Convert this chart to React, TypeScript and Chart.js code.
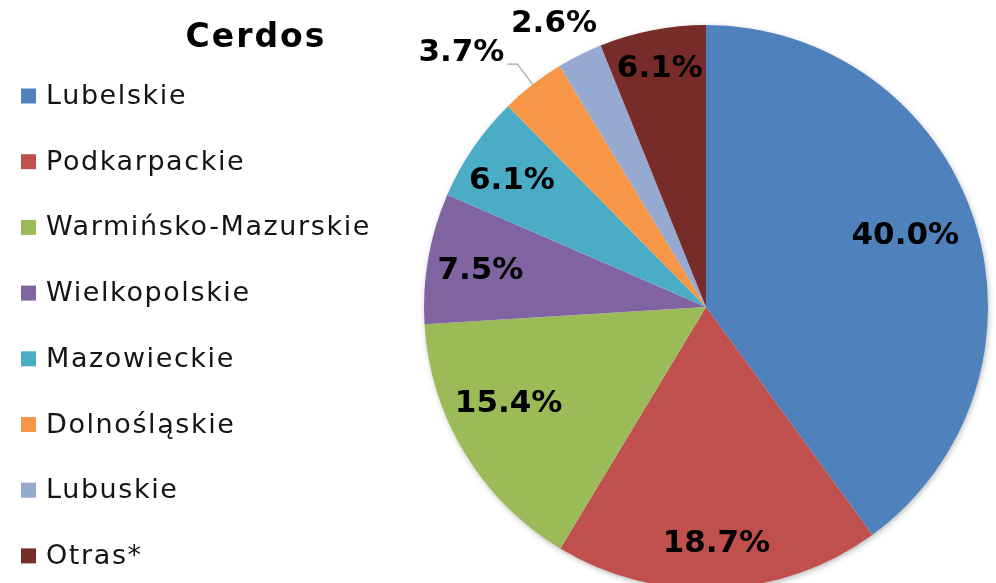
import React, { useEffect, useRef } from "react";
import { Chart, registerables } from "chart.js";

Chart.register(...registerables);

const title = "Cerdos";
const categories = [
  "Lubelskie",
  "Podkarpackie",
  "Warmińsko-Mazurskie",
  "Wielkopolskie",
  "Mazowieckie",
  "Dolnośląskie",
  "Lubuskie",
  "Otras*",
];
const values = [40.0, 18.7, 15.4, 7.5, 6.1, 3.7, 2.6, 6.1];
const colors = [
  "#4F81BD",
  "#C0504D",
  "#9BBB59",
  "#8064A2",
  "#4BACC6",
  "#F79646",
  "#95A9D1",
  "#772C2A",
];

// label placement (fraction of radius) per slice, and whether it sits outside
const labelRadius = [0.75, 0.84, 0.78, 0.81, 0.82, 1.25, 1.14, 0.86];
const labelAngleShift = [-1.5, 0, 5, -1, -1.5, -6, -1.6, 0];
const leaderLine = [false, false, false, false, false, true, false, false];

const FONT = "'DejaVu Sans', sans-serif";

const overlayPlugin = {
  id: "overlay",
  beforeDatasetsDraw(chart: any) {
    const meta = chart.getDatasetMeta(0);
    const arc = meta.data[0];
    if (!arc) return;
    const { x, y, outerRadius } = arc.getProps(["x", "y", "outerRadius"], true);
    const ctx = chart.ctx;
    ctx.save();
    ctx.shadowColor = "rgba(0,0,0,0.35)";
    ctx.shadowBlur = 6;
    ctx.shadowOffsetX = 1;
    ctx.shadowOffsetY = 2;
    ctx.fillStyle = "#ffffff";
    ctx.beginPath();
    ctx.arc(x, y, outerRadius - 1, 0, Math.PI * 2);
    ctx.fill();
    ctx.restore();
  },
  afterDatasetsDraw(chart: any) {
    const ctx = chart.ctx;
    const meta = chart.getDatasetMeta(0);
    const ds = chart.data.datasets[0];
    ctx.save();
    // title
    ctx.fillStyle = "#000";
    ctx.font = `bold 33px ${FONT}`;
    ctx.letterSpacing = "2px";
    ctx.textAlign = "center";
    ctx.textBaseline = "alphabetic";
    ctx.fillText(title, 256, 47);

    // legend
    ctx.font = `27px ${FONT}`;
    ctx.letterSpacing = "1.6px";
    ctx.textAlign = "left";
    ctx.textBaseline = "middle";
    (chart.data.labels as string[]).forEach((lab, i) => {
      const cy = 96 + i * 65.7;
      ctx.fillStyle = ds.backgroundColor[i];
      ctx.fillRect(21, cy - 7.5, 15, 15);
      ctx.fillStyle = "#141414";
      ctx.fillText(lab, 46, cy + 1);
    });

    // data labels
    ctx.font = `bold 31px ${FONT}`;
    ctx.letterSpacing = "0px";
    ctx.textAlign = "center";
    ctx.textBaseline = "middle";
    meta.data.forEach((el: any, i: number) => {
      const p = el.getProps(["x", "y", "startAngle", "endAngle", "outerRadius"], true);
      const mid = (p.startAngle + p.endAngle) / 2 + (labelAngleShift[i] * Math.PI) / 180;
      const r = p.outerRadius * labelRadius[i];
      const lx = p.x + Math.cos(mid) * r;
      const ly = p.y + Math.sin(mid) * r;
      if (leaderLine[i]) {
        const amid = (p.startAngle + p.endAngle) / 2;
        const ex = p.x + Math.cos(amid) * p.outerRadius * 0.995;
        const ey = p.y + Math.sin(amid) * p.outerRadius * 0.995;
        ctx.strokeStyle = "#A6A6A6";
        ctx.lineWidth = 1.2;
        ctx.beginPath();
        ctx.moveTo(lx + 46, ly + 11);
        ctx.lineTo(lx + 56, ly + 11);
        ctx.lineTo(ex, ey);
        ctx.stroke();
      }
      ctx.fillStyle = "#000";
      ctx.fillText(ds.data[i].toFixed(1) + "%", lx, ly);
    });
    ctx.restore();
  },
};

export default function App() {
  const ref = useRef<HTMLCanvasElement>(null);
  useEffect(() => {
    if (!ref.current) return;
    const chart = new Chart(ref.current, {
      type: "pie",
      data: {
        labels: categories,
        datasets: [
          {
            data: values,
            backgroundColor: colors,
            borderWidth: 0,
          },
        ],
      },
      options: {
        animation: false,
        responsive: false,
        layout: { padding: { left: 424, right: 8, top: 25, bottom: 25 } },
        plugins: {
          legend: { display: false },
          tooltip: { enabled: false },
          title: { display: false },
        },
      },
      plugins: [overlayPlugin],
    });
    return () => chart.destroy();
  }, []);
  return (
    <div style={{ position: "fixed", left: 0, top: 0, width: 996, height: 614, background: "#fff" }}>
      <canvas ref={ref} width={996} height={614} style={{ width: 996, height: 614, display: "block" }} />
    </div>
  );
}
